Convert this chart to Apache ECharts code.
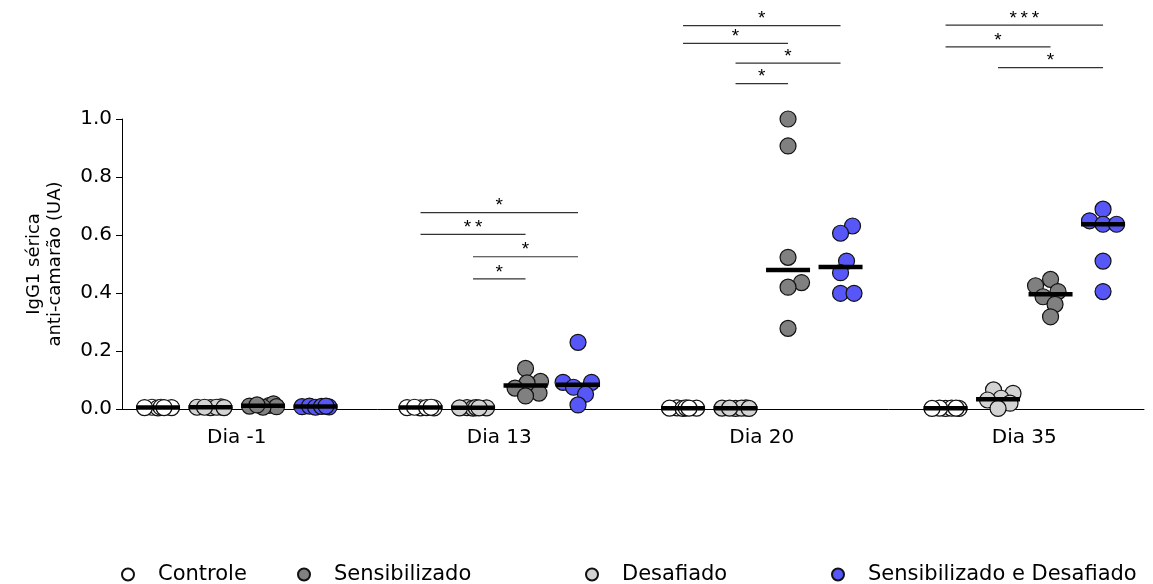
<!DOCTYPE html>
<html><head><meta charset="utf-8">
<script src="https://cdn.jsdelivr.net/npm/echarts@6/dist/echarts.min.js"></script>
<style>html,body{margin:0;padding:0;background:#fff}#c{width:1153px;height:584px}</style>
</head><body><div id="c"></div>
<script>
// ---------- DATA ----------
const days = ['Dia -1', 'Dia 13', 'Dia 20', 'Dia 35'];
// order of the columns inside each day
const groupOrder = ['Controle', 'Desafiado', 'Sensibilizado', 'Sensibilizado e Desafiado'];
// order of the legend entries
const legendOrder = ['Controle', 'Sensibilizado', 'Desafiado', 'Sensibilizado e Desafiado'];
const yTicks = [0, 0.2, 0.4, 0.6, 0.8, 1.0];

// values per day (Dia -1, Dia 13, Dia 20, Dia 35)
const controle = [
  [0.005, 0.006, 0.004, 0.005, 0.006, 0.005],
  [0.005, 0.004, 0.006, 0.005, 0.004, 0.006],
  [0.003, 0.004, 0.003, 0.002, 0.004, 0.003],
  [0.002, 0.003, 0.002, 0.003, 0.002, 0.003]
];
const desafiado = [
  [0.006, 0.005, 0.007, 0.006, 0.005, 0.006],
  [0.004, 0.005, 0.003, 0.004, 0.005, 0.004],
  [0.003, 0.002, 0.004, 0.003, 0.003, 0.002],
  [0.066, 0.054, 0.037, 0.031, 0.020, 0.002]
];
const sensibilizado = [
  [0.012, 0.018, 0.008, 0.010, 0.006, 0.014],
  [0.140, 0.095, 0.090, 0.072, 0.055, 0.045],
  [1.000, 0.907, 0.523, 0.436, 0.420, 0.278],
  [0.447, 0.425, 0.405, 0.387, 0.361, 0.318]
];
const sensDesafiado = [
  [0.008, 0.010, 0.006, 0.009, 0.007, 0.010],
  [0.230, 0.092, 0.092, 0.075, 0.051, 0.014],
  [0.631, 0.606, 0.510, 0.470, 0.399, 0.399],
  [0.689, 0.649, 0.637, 0.637, 0.510, 0.405]
];

// significance brackets: day index, from column, to column, height (UA), label
const sigDay   = [1, 1, 1, 1, 2, 2, 2, 2, 3, 3, 3];
const sigFrom  = [0, 0, 1, 1, 0, 0, 1, 1, 0, 0, 1];
const sigTo    = [3, 2, 3, 2, 3, 2, 3, 2, 3, 2, 3];
const sigLevel = [0.677, 0.602, 0.525, 0.449, 1.322, 1.261, 1.193, 1.122, 1.324, 1.249, 1.177];
const sigLabel = ['*', '**', '*', '*', '*', '*', '*', '*', '***', '*', '*'];

// ---------- STYLE ----------
const FONT = '"DejaVu Sans", "Liberation Sans", Arial, sans-serif';
const STARFONT = '"Liberation Sans", Arial, sans-serif';
const groupValues = {
  'Controle': controle,
  'Desafiado': desafiado,
  'Sensibilizado': sensibilizado,
  'Sensibilizado e Desafiado': sensDesafiado
};
const groupColor = {
  'Controle': '#ffffff',
  'Desafiado': '#d3d3d3',
  'Sensibilizado': '#808080',
  'Sensibilizado e Desafiado': '#5757f7'
};
const legendLeft = [116, 292, 580, 826];
const SYM = 16;

const xPos = (di, gi) => di * 5 + gi + 1;
const median = arr => {
  const s = arr.slice().sort((a, b) => a - b);
  const n = s.length;
  return n % 2 ? s[(n - 1) / 2] : (s[n / 2 - 1] + s[n / 2]) / 2;
};

const chart = echarts.init(document.getElementById('c'), null, { renderer: 'canvas' });

const baseOption = {
  animation: false,
  backgroundColor: '#fff',
  grid: { left: 122, right: 9, top: 119, bottom: 175, containLabel: false },
  xAxis: {
    type: 'value', min: 0.314, max: 19.78,
    axisLine: { show: true, lineStyle: { color: '#000', width: 1 } },
    axisTick: { show: false },
    splitLine: { show: false },
    axisLabel: {
      customValues: days.map((d, i) => i * 5 + 2.5),
      formatter: v => days[Math.round((v - 2.5) / 5)],
      color: '#000', fontSize: 20, fontFamily: FONT, margin: 19
    }
  },
  yAxis: {
    type: 'value', min: 0, max: 1, interval: 0.2,
    name: 'IgG1 sérica\nanti-camarão (UA)',
    nameLocation: 'middle', nameGap: 56,
    nameTextStyle: { color: '#000', fontSize: 18, fontFamily: FONT, lineHeight: 21 },
    axisLine: { show: true, lineStyle: { color: '#000', width: 1 } },
    axisTick: { show: true, length: 6, lineStyle: { color: '#000' }, customValues: yTicks },
    splitLine: { show: false },
    axisLabel: {
      customValues: yTicks,
      formatter: v => v.toFixed(1),
      color: '#000', fontSize: 20, fontFamily: FONT, margin: 10
    }
  },
  legend: legendOrder.map((name, i) => ({
    data: [name], left: legendLeft[i], top: 559,
    icon: 'circle', itemWidth: 50, itemHeight: 12,
    selectedMode: false,
    textStyle: { color: '#000', fontSize: 21, fontFamily: FONT }
  })),
  series: []
};
chart.setOption(baseOption);

// spread overlapping points horizontally (beeswarm) in pixel space
function swarm(vals, xc) {
  const cx = chart.convertToPixel({ xAxisIndex: 0 }, xc);
  const minDist = 13, step = 1.5, maxOff = 16;
  const placed = [];
  const out = new Array(vals.length);
  const order = vals.map((v, i) => i).sort((a, b) => vals[a] - vals[b]);
  for (const i of order) {
    const py = chart.convertToPixel({ yAxisIndex: 0 }, vals[i]);
    let best = 0, bestD = -1, done = false;
    for (let k = 0; k <= maxOff / step && !done; k++) {
      for (const s of (k === 0 ? [0] : [1, -1])) {
        const off = s * k * step;
        let md = Infinity;
        for (const q of placed) md = Math.min(md, Math.hypot(q[0] - off, q[1] - py));
        if (md >= minDist) { best = off; done = true; break; }
        if (md > bestD) { bestD = md; best = off; }
      }
    }
    placed.push([best, py]);
    out[i] = [chart.convertFromPixel({ xAxisIndex: 0 }, cx + best), vals[i]];
  }
  return out;
}

const scatterSeries = groupOrder.map((g, gi) => {
  const data = [];
  groupValues[g].forEach((vals, di) => swarm(vals, xPos(di, gi)).forEach(p => data.push(p)));
  return {
    name: g, type: 'scatter', symbol: 'circle', symbolSize: SYM, z: 2,
    itemStyle: { color: groupColor[g], borderColor: '#111', borderWidth: 1.2, opacity: 1 },
    emphasis: { disabled: true },
    data
  };
});

const medianData = [];
groupOrder.forEach((g, gi) => groupValues[g].forEach((vals, di) => medianData.push([xPos(di, gi), median(vals)])));

const medianSeries = {
  name: 'mediana', type: 'custom', z: 5, silent: true,
  data: medianData,
  renderItem: (params, api) => {
    const p = api.coord([api.value(0), api.value(1)]);
    return { type: 'line', shape: { x1: p[0] - 22, y1: p[1], x2: p[0] + 22, y2: p[1] },
      style: { stroke: '#000', lineWidth: 4.5 } };
  }
};

const sigData = sigDay.map((d, i) => [xPos(d, sigFrom[i]), xPos(d, sigTo[i]), sigLevel[i], i]);
const sigSeries = {
  name: 'sig', type: 'custom', z: 4, silent: true, clip: false,
  data: sigData,
  renderItem: (params, api) => {
    const a = api.coord([api.value(0), api.value(2)]);
    const b = api.coord([api.value(1), api.value(2)]);
    const lbl = sigLabel[api.value(3)];
    return { type: 'group', children: [
      { type: 'line', shape: { x1: a[0], y1: a[1], x2: b[0], y2: b[1] },
        style: { stroke: '#333', lineWidth: 1.2 } },
      { type: 'text', style: { text: lbl.split('').join('\u2009'), x: (a[0] + b[0]) / 2, y: a[1] + 3,
        align: 'center', verticalAlign: 'bottom', textAlign: 'center', textVerticalAlign: 'bottom',
        fontSize: 19, fontFamily: STARFONT, fill: '#000' } }
    ] };
  }
};

chart.setOption({ series: scatterSeries.concat([medianSeries, sigSeries]) });
</script></body></html>
